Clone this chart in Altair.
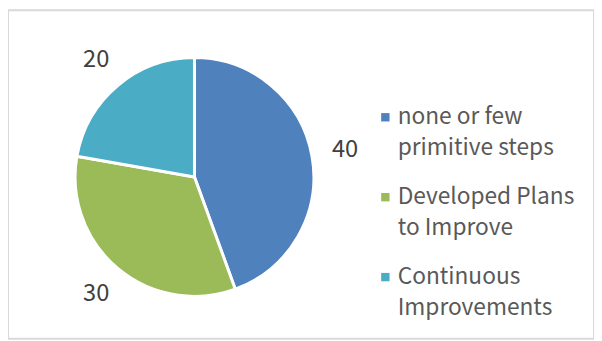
import altair as alt
import pandas as pd

categories = ["none or few primitive steps", "Developed Plans to Improve", "Continuous Improvements"]
wrapped = [["none or few", "primitive steps"], ["Developed Plans", "to Improve"], ["Continuous", "Improvements"]]
values = [40, 30, 20]
colors = ["#4F81BD", "#9BBB59", "#4BACC6"]

df = pd.DataFrame({"category": categories, "value": values, "order": list(range(len(categories)))})

label_expr = " : ".join(
    [f"datum.label == '{c}' ? ['{w[0]}', '{w[1]}']" for c, w in zip(categories, wrapped)] + ["datum.label"]
)

FONT = "Noto Sans CJK KR"
cx, cy, r = 189, 169, 121

base = alt.Chart(df).encode(
    theta=alt.Theta("value:Q", stack=True),
    order=alt.Order("order:Q"),
)

pie = base.mark_arc(stroke="white", strokeWidth=3).encode(
    x=alt.value(cx), y=alt.value(cy), radius=alt.value(r),
    color=alt.Color(
        "category:N",
        scale=alt.Scale(domain=categories, range=colors),
        sort=categories,
        legend=alt.Legend(
            title=None, orient="none", legendX=371, legendY=97,
            symbolType="square", symbolSize=72, symbolStrokeWidth=0,
            labelFont=FONT, labelFontSize=23, labelColor="#595959",
            labelExpr=label_expr, labelLimit=300, rowPadding=26, labelOffset=1,
        ),
    ),
)

labels = base.mark_text(radius=155, font=FONT, fontSize=24, color="#404040").encode(
    x=alt.value(cx), y=alt.value(cy), text=alt.Text("value:Q"),
)

chart = alt.layer(pie, labels).properties(
    width=594, height=333, autosize=alt.AutoSizeParams(type="none"), padding=0,
).configure(
    background="white", style={"guide-label": {"lineHeight": 31}}
).configure_view(stroke="#D9D9D9", strokeWidth=2)

chart.save("out.html", embed_options={"renderer": "svg", "actions": False})
